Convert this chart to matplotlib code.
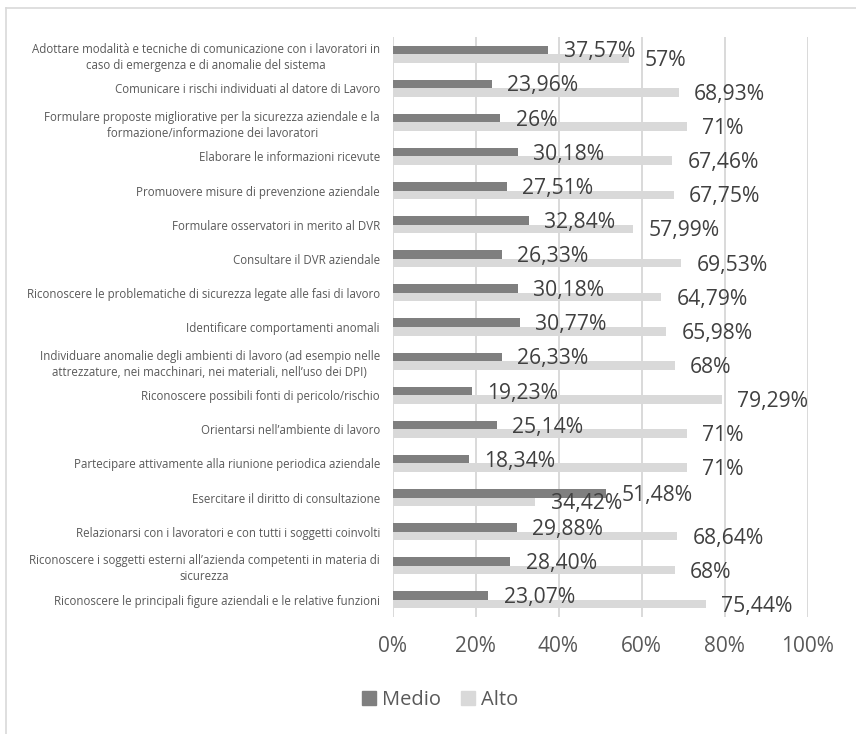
import matplotlib.pyplot as plt
from matplotlib.lines import Line2D
from matplotlib.patches import Patch

plt.rcParams['font.family'] = ['Open Sans', 'DejaVu Sans']

# categories, top to bottom
categorie = [
    "Adottare modalità e tecniche di comunicazione con i lavoratori in\ncaso di emergenza e di anomalie del sistema",
    "Comunicare i rischi individuati al datore di Lavoro",
    "Formulare proposte migliorative per la sicurezza aziendale e la\nformazione/informazione dei lavoratori",
    "Elaborare le informazioni ricevute",
    "Promuovere misure di prevenzione aziendale",
    "Formulare osservatori in merito al DVR",
    "Consultare il DVR aziendale",
    "Riconoscere le problematiche di sicurezza legate alle fasi di lavoro",
    "Identificare comportamenti anomali",
    "Individuare anomalie degli ambienti di lavoro (ad esempio nelle\nattrezzature, nei macchinari, nei materiali, nell\u2019uso dei DPI)",
    "Riconoscere possibili fonti di pericolo/rischio",
    "Orientarsi nell\u2019ambiente di lavoro",
    "Partecipare attivamente alla riunione periodica aziendale",
    "Esercitare il diritto di consultazione",
    "Relazionarsi con i lavoratori e con tutti i soggetti coinvolti",
    "Riconoscere i soggetti esterni all\u2019azienda competenti in materia di\nsicurezza",
    "Riconoscere le principali figure aziendali e le relative funzioni",
]

medio = [37.57, 23.96, 26, 30.18, 27.51, 32.84, 26.33, 30.18, 30.77, 26.33,
         19.23, 25.14, 18.34, 51.48, 29.88, 28.40, 23.07]
alto = [57, 68.93, 71, 67.46, 67.75, 57.99, 69.53, 64.79, 65.98, 68,
        79.29, 71, 71, 34.42, 68.64, 68, 75.44]

medio_lbl = ["37,57%", "23,96%", "26%", "30,18%", "27,51%", "32,84%", "26,33%",
             "30,18%", "30,77%", "26,33%", "19,23%", "25,14%", "18,34%",
             "51,48%", "29,88%", "28,40%", "23,07%"]
alto_lbl = ["57%", "68,93%", "71%", "67,46%", "67,75%", "57,99%", "69,53%",
            "64,79%", "65,98%", "68%", "79,29%", "71%", "71%", "34,42%",
            "68,64%", "68%", "75,44%"]

xticks = [0, 20, 40, 60, 80, 100]
xtick_lbl = ["0%", "20%", "40%", "60%", "80%", "100%"]

c_medio = '#7f7f7f'
c_alto = '#d9d9d9'
c_text = '#595959'

fig = plt.figure(figsize=(8.56, 7.34), dpi=100)
ax = fig.add_axes([392.5/856, 1-617/734, 415/856, 580/734])

pos = list(range(len(categorie)))
h = 0.25
ax.barh([p - h/2 for p in pos], medio, height=h, color=c_medio, zorder=3)
ax.barh([p + h/2 for p in pos], alto, height=h, color=c_alto, zorder=3)

# data labels
for p, v, s in zip(pos, medio, medio_lbl):
    ax.annotate(s, (v, p - h/2), xytext=(11, -1.5), textcoords='offset points',
                ha='left', va='center', fontsize=15.2, color='#404040', zorder=4)
for p, v, s in zip(pos, alto, alto_lbl):
    ax.annotate(s, (v, p + h/2), xytext=(11, -1.5), textcoords='offset points',
                ha='left', va='center', fontsize=15.2, color='#404040', zorder=4)

ax.set_xlim(0, 100)
ax.set_ylim(len(categorie) - 0.5, -0.5)
ax.set_xticks(xticks)
ax.set_xticklabels(xtick_lbl, fontsize=15, color=c_text)
ax.set_yticks(pos)
ax.set_yticklabels(categorie, fontsize=8.3, color=c_text, multialignment='center',
                   linespacing=1.3)
ax.tick_params(length=0)
ax.tick_params(axis='x', pad=14)
ax.tick_params(axis='y', pad=9)
ax.grid(axis='x', color='#d9d9d9', lw=1.4, zorder=0)
for sp in ax.spines.values():
    sp.set_visible(False)

# legend
handles = [Patch(color=c_medio, label='Medio'), Patch(color=c_alto, label='Alto')]
fig.legend(handles=handles, loc='center', bbox_to_anchor=(440/856, 1-700/734),
           ncol=2, frameon=False, fontsize=14.5, handlelength=0.7, handleheight=0.7,
           handletextpad=0.3, columnspacing=1.0, labelcolor=c_text)

# chart border (cropped)
fig.add_artist(Line2D([6/856, 1], [1-8/734, 1-8/734], color='#d9d9d9', lw=1.2))
fig.add_artist(Line2D([6/856, 6/856], [0, 1-8/734], color='#d9d9d9', lw=1.2))

fig.savefig('out.png', dpi=100)
